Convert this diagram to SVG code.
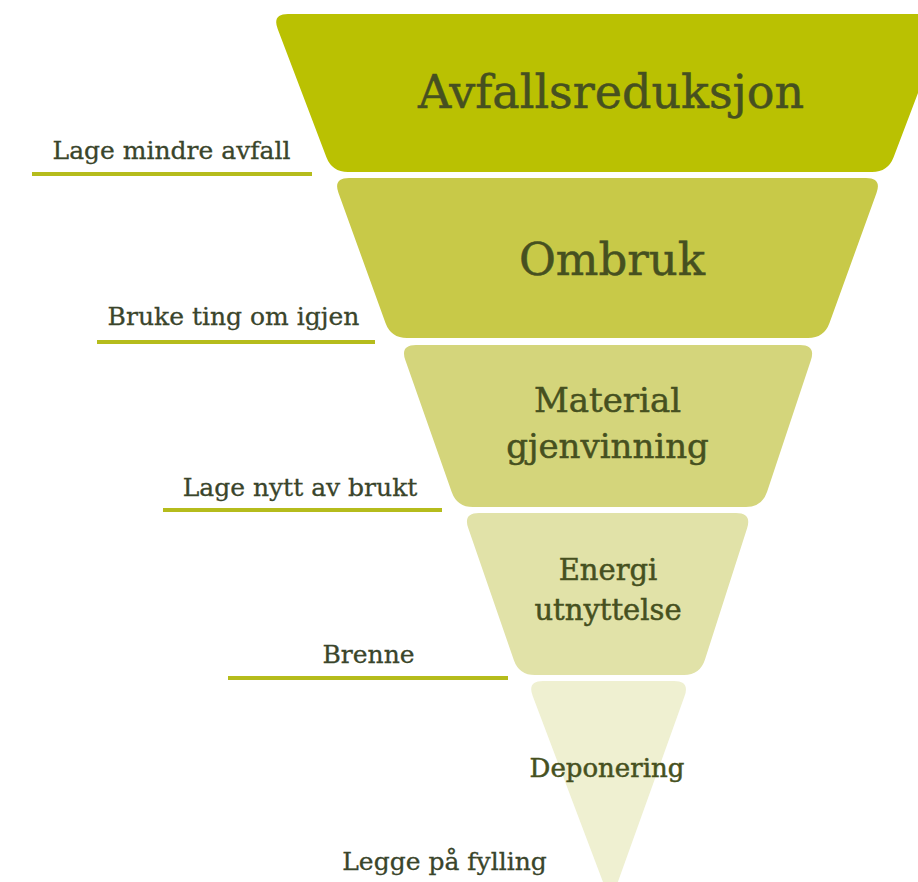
<svg xmlns="http://www.w3.org/2000/svg" width="918" height="882" viewBox="0 0 918 882">
  <style>
    .seg-title { font-family: "DejaVu Serif", "Liberation Serif", serif; fill: #465020; stroke: #465020; stroke-width: 0.5; text-anchor: middle; }
    .label { font-family: "DejaVu Serif", "Liberation Serif", serif; font-size: 25px; fill: #3a452b; stroke: #3a452b; stroke-width: 0.3; text-anchor: middle; }
    .leader { stroke: #b5bc1c; stroke-width: 4; stroke-linecap: butt; fill: none; }
  </style>
  <rect x="0" y="0" width="918" height="882" fill="#ffffff"/>

  <g id="node-avfallsreduksjon">
    <path d="M288,14 L932,14 Q948,14 942.3,29 L893.7,157 Q888,172 872,172 L348,172 Q332,172 326.3,157 L277.7,29 Q272,14 288,14 Z" fill="#bac102"/>
    <text class="seg-title" x="611" y="108" font-size="46">Avfallsreduksjon</text>
  </g>

  <g id="node-ombruk">
    <path d="M349,178 L866,178 Q882,178 876.5,193 L829.5,323 Q824,338 808,338 L407,338 Q391,338 385.5,323 L338.5,193 Q333,178 349,178 Z" fill="#c8c948"/>
    <text class="seg-title" x="612" y="275" font-size="45">Ombruk</text>
  </g>

  <g id="node-material">
    <path d="M416,345 L800,345 Q816,345 810.9,360.2 L767.1,491.8 Q762,507 746,507 L473,507 Q457,507 451.7,491.9 L405.3,360.1 Q400,345 416,345 Z" fill="#d4d57b"/>
    <text class="seg-title" x="607.5" y="412" font-size="34">Material</text>
    <text class="seg-title" x="607.5" y="458" font-size="34">gjenvinning</text>
  </g>

  <g id="node-energi">
    <path d="M479,513 L736,513 Q752,513 747.1,528.2 L704.9,659.8 Q700,675 684,675 L535,675 Q519,675 513.8,659.9 L468.2,528.1 Q463,513 479,513 Z" fill="#e1e2a8"/>
    <text class="seg-title" x="608" y="580" font-size="29">Energi</text>
    <text class="seg-title" x="608" y="620" font-size="29">utnyttelse</text>
  </g>

  <g id="node-deponering">
    <path d="M543,681 L674,681 Q690,681 684.6,696.1 L615,890 L606,890 L532.7,696 Q527,681 543,681 Z" fill="#eff0d1"/>
    <text class="seg-title" x="607" y="777" font-size="26">Deponering</text>
  </g>

  <g id="connectors">
    <line class="leader" x1="32" y1="174" x2="312" y2="174"/>
    <line class="leader" x1="97" y1="342" x2="375" y2="342"/>
    <line class="leader" x1="163" y1="510" x2="442" y2="510"/>
    <line class="leader" x1="228" y1="678" x2="508" y2="678"/>
  </g>

  <g id="labels">
    <text class="label" x="171.5" y="159">Lage mindre avfall</text>
    <text class="label" x="233.5" y="325">Bruke ting om igjen</text>
    <text class="label" x="300" y="496">Lage nytt av brukt</text>
    <text class="label" x="368.5" y="663">Brenne</text>
    <text class="label" x="444.5" y="870">Legge på fylling</text>
  </g>
</svg>
